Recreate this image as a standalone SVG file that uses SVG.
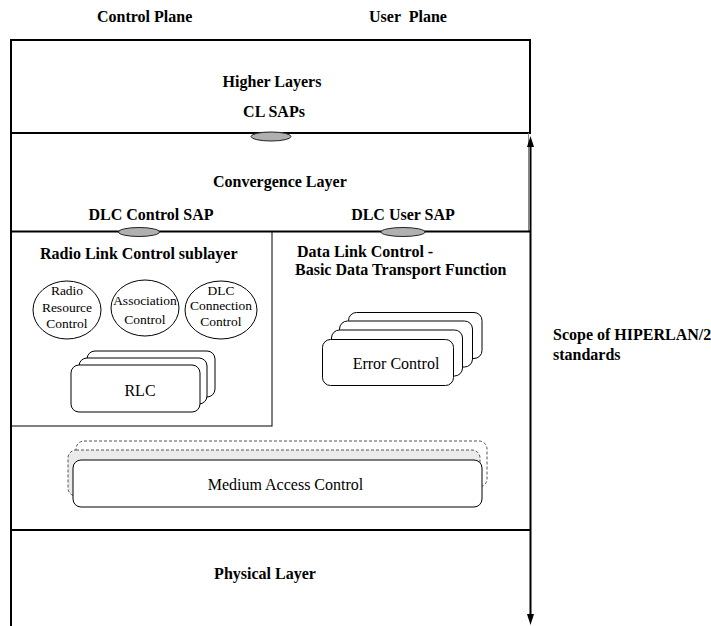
<svg xmlns="http://www.w3.org/2000/svg" width="711" height="626" viewBox="0 0 711 626">
<defs>
<style>
.b{font-family:"Liberation Serif","Times New Roman","DejaVu Serif",serif;font-weight:bold;font-size:16px;fill:#000}
.r{font-family:"Liberation Serif","Times New Roman","DejaVu Serif",serif;font-size:16px;fill:#000}
.s{font-family:"Liberation Serif","Times New Roman","DejaVu Serif",serif;font-size:13.5px;fill:#000}
.frame{fill:none;stroke:#000;stroke-width:2}
.thin{fill:none;stroke:#000;stroke-width:1}
.card{fill:#fff;stroke:#000;stroke-width:1}
.dash{stroke:#555;stroke-width:1;stroke-dasharray:3 2}
.sap{fill:#b0b0b0;stroke:#222;stroke-width:1}
.circ{fill:#fff;stroke:#000;stroke-width:1}
</style>
<marker id="ah" viewBox="0 -4 12 8" refX="0" refY="0" markerWidth="12" markerHeight="8" markerUnits="userSpaceOnUse" orient="auto-start-reverse">
<path d="M0,-3.5 L11,0 L0,3.5 z" fill="#000"/>
</marker>
</defs>
<rect width="711" height="626" fill="#fff"/>

<text class="b" x="97" y="22" font-size="15">Control Plane</text>
<text class="b" x="369" y="22" font-size="15" xml:space="preserve">User  Plane</text>

<g id="higher-layers">
<rect class="frame" x="11" y="40" width="519" height="93"/>
<text class="b" x="272" y="87" text-anchor="middle">Higher Layers</text>
<text class="b" x="274" y="117" text-anchor="middle">CL SAPs</text>
</g>

<g id="convergence-layer">
<line class="frame" x1="11" y1="133" x2="11" y2="231"/>
<line x1="528.5" y1="133" x2="528.5" y2="231" stroke="#888" stroke-width="1"/>
<text class="b" x="213" y="187">Convergence Layer</text>
<text class="b" x="151" y="220" text-anchor="middle">DLC Control SAP</text>
<text class="b" x="403" y="220" text-anchor="middle">DLC User SAP</text>
</g>

<g id="dlc-layer">
<line class="frame" x1="11" y1="231.5" x2="530" y2="231.5"/>
<line class="frame" x1="11" y1="231" x2="11" y2="530"/>
<text class="b" x="297" y="257">Data Link Control -</text>
<text class="b" x="295" y="275">Basic Data Transport Function</text>
</g>

<g id="rlc-sublayer">
<rect class="thin" x="11" y="231.5" width="261" height="194.5"/>
<text class="b" x="40" y="259">Radio Link Control sublayer</text>
</g>

<g id="radio-resource-control">
<ellipse class="circ" cx="67" cy="310" rx="34" ry="29"/>
<text class="s" x="67" y="295" text-anchor="middle">Radio</text>
<text class="s" x="67" y="312" text-anchor="middle">Resource</text>
<text class="s" x="67" y="328" text-anchor="middle">Control</text>
</g>

<g id="association-control">
<ellipse class="circ" cx="145" cy="308" rx="34" ry="28"/>
<text class="s" x="145" y="305" text-anchor="middle">Association</text>
<text class="s" x="145" y="324" text-anchor="middle">Control</text>
</g>

<g id="dlc-connection-control">
<ellipse class="circ" cx="221" cy="310" rx="36" ry="29"/>
<text class="s" x="221" y="295" text-anchor="middle">DLC</text>
<text class="s" x="221" y="310" text-anchor="middle">Connection</text>
<text class="s" x="221" y="326" text-anchor="middle">Control</text>
</g>

<g id="rlc">
<rect class="card" x="87" y="351" width="128" height="46" rx="8"/>
<rect class="card" x="79" y="358" width="128" height="46" rx="8"/>
<rect class="card" x="71" y="365" width="129" height="47" rx="8"/>
<text class="r" x="140" y="396" text-anchor="middle">RLC</text>
</g>

<g id="error-control">
<rect class="card" x="348.5" y="312.5" width="133.5" height="46" rx="8"/>
<rect class="card" x="339.5" y="321" width="133" height="46" rx="8"/>
<rect class="card" x="331.5" y="330" width="131" height="46" rx="8"/>
<rect class="card" x="322.5" y="339.5" width="131" height="46" rx="8"/>
<text class="r" x="396" y="369" text-anchor="middle">Error Control</text>
</g>

<g id="medium-access-control">
<rect class="dash" x="76" y="441" width="411" height="46" rx="8" fill="#fff"/>
<rect class="dash" x="68" y="450" width="412" height="46" rx="8" fill="#ebebeb"/>
<rect class="card" x="73" y="460" width="409" height="47" rx="8"/>
<text class="r" x="285.5" y="490" text-anchor="middle">Medium Access Control</text>
</g>

<g id="physical-layer">
<line class="frame" x1="11" y1="530" x2="530" y2="530"/>
<line class="frame" x1="11" y1="530" x2="11" y2="626"/>
<text class="b" x="265" y="579" text-anchor="middle">Physical Layer</text>
</g>

<g id="saps">
<ellipse id="cl-sap" class="sap" cx="271" cy="136.5" rx="20" ry="4.5"/>
<ellipse id="dlc-control-sap" class="sap" cx="139" cy="232" rx="20.5" ry="4.5"/>
<ellipse id="dlc-user-sap" class="sap" cx="403" cy="232" rx="22" ry="4.5"/>
</g>

<g id="connectors">
<line x1="530.5" y1="147" x2="530.5" y2="614" stroke="#000" stroke-width="2" marker-start="url(#ah)" marker-end="url(#ah)"/>
</g>

<g id="scope-label">
<text class="b" x="553" y="340">Scope of HIPERLAN/2</text>
<text class="b" x="553" y="360">standards</text>
</g>
</svg>
